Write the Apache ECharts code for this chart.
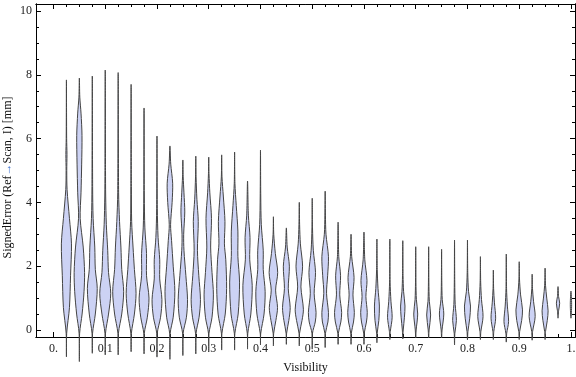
<!DOCTYPE html>
<html>
<head>
<meta charset="utf-8">
<script src="https://cdn.jsdelivr.net/npm/echarts@6/dist/echarts.min.js"></script>
<style>html,body{margin:0;padding:0;background:#fff;}#c{width:576px;height:377px;}</style>
</head>
<body>
<div id="c"></div>
<script>
// ---- data ----
const visibility = [0.025,0.05,0.075,0.1,0.125,0.15,0.175,0.2,0.225,0.25,0.275,0.3,0.325,0.35,0.375,0.4,
  0.425,0.45,0.475,0.5,0.525,0.55,0.575,0.6,0.625,0.65,0.675,0.7,0.725,0.75,0.775,0.8,0.825,0.85,0.875,0.9,
  0.925,0.95,0.975,1.0];
const errorMax = [7.84,7.9,7.96,8.15,8.07,7.7,6.96,6.08,5.77,5.33,5.45,5.42,5.49,5.58,4.67,5.64,
  3.55,3.2,4.0,4.13,4.35,3.38,3.0,3.07,2.85,2.85,2.8,2.61,2.61,2.53,2.82,2.82,2.3,1.88,2.38,2.14,
  1.75,1.94,1.36,1.22];
const errorMin = [-0.84,-0.99,-0.73,-0.78,-0.78,-0.68,-0.75,-0.85,-0.92,-0.8,-0.75,-0.65,-0.63,-0.63,-0.6,-0.47,
  -0.5,-0.45,-0.5,-0.6,-0.55,-0.45,-0.45,-0.45,-0.4,-0.3,-0.28,-0.25,-0.25,-0.25,-0.47,-0.31,-0.3,-0.3,-0.38,-0.3,
  -0.32,-0.3,0.37,0.37];
// interior density knots per violin: [error, relative density]
const densityKnots = [
  [[-0.1,0.05],[0.7,0.55],[1.7,0.75],[2.7,0.92],[3.5,0.55],[4.4,0.12],[5.0,0.06],[5.5,0.1],[6.0,0.04]],
  [[-0.1,0.05],[0.5,0.5],[1.2,0.85],[1.8,0.95],[2.6,0.7],[3.5,0.15],[4.3,0.3],[5.2,0.42],[6.1,0.48],[6.8,0.3],[7.3,0.08]],
  [[-0.1,0.05],[0.5,0.55],[1.3,0.9],[1.9,0.55],[2.6,0.45],[3.5,0.15],[4.5,0.06]],
  [[-0.1,0.05],[0.5,0.6],[1.15,1.0],[1.8,0.6],[2.5,0.45],[3.3,0.2],[4.2,0.08],[5.0,0.05]],
  [[-0.1,0.05],[0.5,0.65],[1.2,1.0],[1.9,0.65],[2.6,0.5],[3.4,0.25],[4.3,0.08]],
  [[-0.1,0.05],[0.5,0.6],[1.15,0.9],[1.9,0.6],[2.6,0.35],[3.4,0.1],[4.5,0.05]],
  [[-0.1,0.05],[0.4,0.6],[1.0,0.9],[1.7,0.45],[2.4,0.45],[3.2,0.15],[4.2,0.05]],
  [[-0.1,0.05],[0.4,0.65],[0.95,0.9],[1.6,0.5],[2.2,0.5],[2.9,0.2],[3.8,0.06]],
  [[-0.1,0.05],[0.4,0.6],[1.2,0.9],[2.0,0.6],[2.8,0.3],[3.3,0.12],[4.0,0.4],[4.6,0.5],[5.2,0.15]],
  [[-0.1,0.05],[0.4,0.65],[0.95,0.85],[1.7,0.55],[2.5,0.2],[3.0,0.15],[3.7,0.35],[4.3,0.2],[4.8,0.06]],
  [[-0.1,0.05],[0.4,0.6],[0.95,0.85],[1.7,0.55],[2.5,0.3],[3.4,0.45],[4.1,0.2],[4.8,0.05]],
  [[-0.1,0.05],[0.4,0.6],[1.1,0.85],[1.8,0.6],[2.6,0.35],[3.5,0.5],[4.3,0.2],[4.9,0.05]],
  [[-0.1,0.05],[0.5,0.65],[1.3,0.9],[2.2,0.75],[2.7,0.5],[3.4,0.6],[4.2,0.3],[4.8,0.06]],
  [[-0.1,0.05],[0.5,0.65],[1.5,0.9],[2.3,0.6],[3.1,0.6],[3.9,0.3],[4.6,0.06]],
  [[-0.1,0.05],[0.5,0.6],[1.4,0.85],[2.2,0.4],[2.9,0.45],[3.6,0.15]],
  [[-0.1,0.05],[0.5,0.65],[1.2,0.85],[1.9,0.5],[2.5,0.5],[3.3,0.15],[4.2,0.05]],
  [[-0.1,0.05],[0.3,0.45],[0.7,0.75],[1.25,0.4],[1.8,0.78],[2.4,0.35],[3.0,0.06]],
  [[-0.1,0.05],[0.3,0.45],[0.7,0.7],[1.3,0.35],[2.0,0.55],[2.6,0.15]],
  [[-0.1,0.05],[0.3,0.5],[0.65,0.75],[1.35,0.3],[2.0,0.6],[2.7,0.2],[3.3,0.06]],
  [[-0.1,0.05],[0.25,0.55],[0.55,0.7],[1.15,0.35],[1.8,0.6],[2.5,0.2],[3.2,0.05]],
  [[-0.1,0.05],[0.25,0.5],[0.55,0.6],[1.15,0.25],[1.7,0.45],[2.3,0.6],[3.0,0.15],[3.6,0.05]],
  [[-0.1,0.05],[0.25,0.5],[0.55,0.65],[1.1,0.3],[1.7,0.45],[2.3,0.12]],
  [[-0.1,0.05],[0.25,0.45],[0.55,0.6],[1.1,0.35],[1.65,0.55],[2.3,0.12]],
  [[-0.1,0.05],[0.25,0.45],[0.55,0.6],[1.05,0.35],[1.55,0.55],[2.2,0.15]],
  [[-0.1,0.05],[0.3,0.35],[0.75,0.45],[1.3,0.2],[1.9,0.06]],
  [[-0.05,0.08],[0.4,0.42],[0.9,0.2],[1.5,0.05]],
  [[0,0.08],[0.4,0.3],[0.75,0.4],[1.2,0.15],[1.7,0.05]],
  [[0,0.08],[0.5,0.36],[0.95,0.12],[1.5,0.04]],
  [[0,0.08],[0.47,0.36],[0.9,0.12],[1.5,0.04]],
  [[0,0.08],[0.5,0.4],[0.95,0.12],[1.5,0.04]],
  [[-0.1,0.06],[0.3,0.34],[0.8,0.12],[1.5,0.04]],
  [[-0.05,0.08],[0.35,0.4],[0.75,0.55],[1.2,0.2],[1.8,0.05]],
  [[-0.05,0.08],[0.42,0.48],[0.95,0.2],[1.5,0.05]],
  [[-0.05,0.08],[0.37,0.42],[0.85,0.2],[1.3,0.05]],
  [[-0.1,0.08],[0.26,0.42],[0.75,0.2],[1.3,0.05]],
  [[-0.05,0.08],[0.3,0.45],[0.63,0.6],[1.1,0.25],[1.6,0.05]],
  [[-0.05,0.08],[0.42,0.55],[0.9,0.25],[1.3,0.06]],
  [[-0.05,0.08],[0.3,0.4],[0.6,0.55],[1.0,0.3],[1.4,0.08]],
  [[0.6,0.1],[0.84,0.3],[1.05,0.1]],
  [[0.8,0.12]]
];
const xTickValues = [0,0.1,0.2,0.3,0.4,0.5,0.6,0.7,0.8,0.9,1.0];
const xTickLabels = ['0.','0.1','0.2','0.3','0.4','0.5','0.6','0.7','0.8','0.9','1.'];
const xMinorValues = [0.025,0.05,0.075,0.125,0.15,0.175,0.225,0.25,0.275,0.325,0.35,0.375,0.425,0.45,0.475,
  0.525,0.55,0.575,0.625,0.65,0.675,0.725,0.75,0.775,0.825,0.85,0.875,0.925,0.95,0.975];
const yTickValues = [0,2,4,6,8,10];
const yTickLabels = ['0','2','4','6','8','10'];
const yMinorValues = [0.5,1,1.5,2.5,3,3.5,4.5,5,5.5,6.5,7,7.5,8.5,9,9.5];

// ---- styles ----
const FONT = 'Liberation Serif';
const halfWidth = 0.0106;   // x-units for relative density 1
const X_MIN = -0.0338, X_MAX = 1.0078, Y_MIN = -0.22, Y_MAX = 10.22;

function xAxisDef(pos, values, len, labels) {
  return {
    type: 'value', position: pos, min: X_MIN, max: X_MAX,
    axisLine: { show: true, onZero: false, lineStyle: { color: '#000', width: 1 } },
    axisTick: { show: true, inside: true, length: len, customValues: values, lineStyle: { color: '#000', width: 1 } },
    axisLabel: labels ? {
      show: true, customValues: values, margin: 6, color: '#222', fontFamily: FONT, fontSize: 12,
      formatter: v => xTickLabels[Math.round(v * 10)]
    } : { show: false },
    splitLine: { show: false }
  };
}
function yAxisDef(pos, values, len, labels) {
  return {
    type: 'value', position: pos, min: Y_MIN, max: Y_MAX,
    axisLine: { show: true, onZero: false, lineStyle: { color: '#000', width: 1 } },
    axisTick: { show: true, inside: true, length: len, customValues: values, lineStyle: { color: '#000', width: 1 } },
    axisLabel: labels ? {
      show: true, customValues: values, margin: 4, color: '#222', fontFamily: FONT, fontSize: 12,
      formatter: v => yTickLabels[Math.round(v / 2)]
    } : { show: false },
    splitLine: { show: false }
  };
}

const xAxes = [
  Object.assign(xAxisDef('bottom', xTickValues, 5, true), {
    name: 'Visibility', nameLocation: 'middle', nameGap: 25, nameMoveOverlap: false,
    nameTextStyle: { fontFamily: FONT, fontSize: 12, color: '#111' }
  }),
  xAxisDef('bottom', xMinorValues, 3, false),
  xAxisDef('top', xTickValues, 5, false),
  xAxisDef('top', xMinorValues, 3, false)
];
const yAxes = [
  Object.assign(yAxisDef('left', yTickValues, 5, true), {
    name: '{a|SignedError (Ref}{b|→}{a|Scan, I) [mm]}', nameLocation: 'middle', nameGap: 22, nameRotate: 90,
    nameMoveOverlap: false,
    nameTextStyle: {
      padding: [0, 14, 0, 0],
      rich: {
        a: { fontFamily: FONT, fontSize: 12, color: '#111' },
        b: { fontFamily: FONT, fontSize: 12, color: '#3b6fd0' }
      }
    }
  }),
  yAxisDef('left', yMinorValues, 3, false),
  yAxisDef('right', yTickValues, 5, false),
  yAxisDef('right', yMinorValues, 3, false)
];

const chart = echarts.init(document.getElementById('c'), null, { renderer: 'canvas' });
chart.setOption({
  animation: false,
  backgroundColor: '#fff',
  grid: { left: 36, right: 1, top: 4, bottom: 40, containLabel: false, outerBoundsMode: 'none' },
  xAxis: xAxes,
  yAxis: yAxes,
  series: [{
    type: 'custom',
    xAxisIndex: 0, yAxisIndex: 0,
    clip: false,
    z: 5,
    data: visibility.map((v, i) => [v, errorMin[i], errorMax[i]]),
    encode: { x: 0, y: [1, 2] },
    renderItem: function (params, api) {
      const i = params.dataIndex;
      const x = visibility[i];
      const prof = [[errorMin[i], 0]].concat(densityKnots[i], [[errorMax[i], 0]]);
      const pts = [];
      for (let k = 0; k < prof.length; k++) pts.push(api.coord([x + prof[k][1] * halfWidth, prof[k][0]]));
      for (let k = prof.length - 2; k >= 1; k--) pts.push(api.coord([x - prof[k][1] * halfWidth, prof[k][0]]));
      return {
        type: 'polygon',
        shape: { points: pts, smooth: 0.3 },
        style: { fill: '#ccd2f4', stroke: '#444', lineWidth: 1 }
      };
    }
  }]
});
</script>
</body>
</html>
